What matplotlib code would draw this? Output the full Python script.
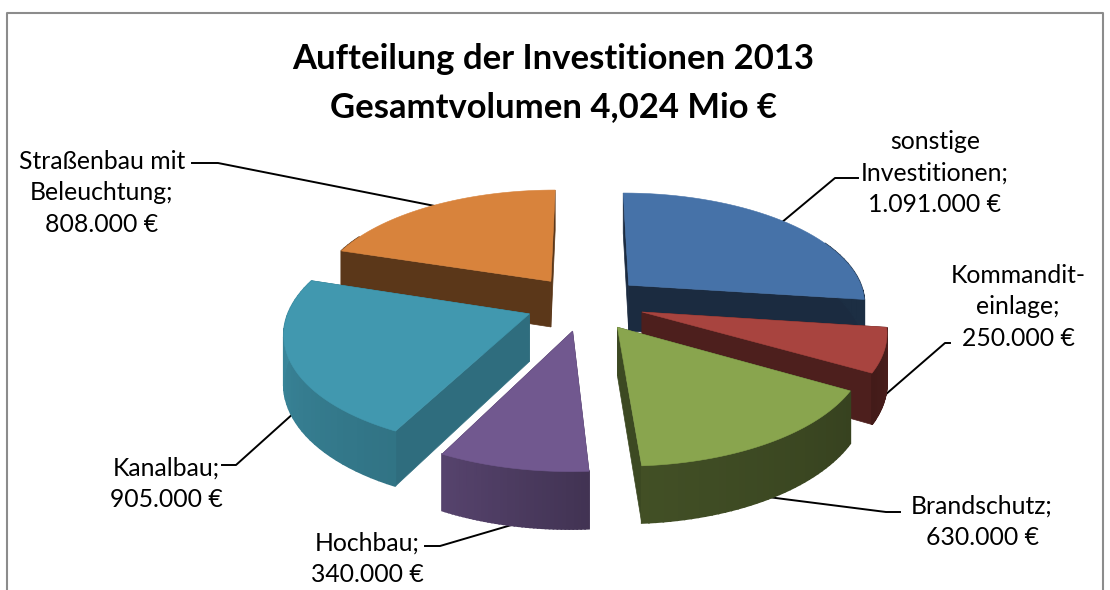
import numpy as np
import matplotlib
matplotlib.use("Agg")
import matplotlib.pyplot as plt

# ============================================================
# DATA
# ============================================================
names = ["sonstige\nInvestitionen;", "Kommandit-\neinlage;", "Brandschutz;",
         "Hochbau;", "Kanalbau;", "Straßenbau mit\nBeleuchtung;"]
values = [1091000, 250000, 630000, 340000, 905000, 808000]
title_lines = ["Aufteilung der Investitionen 2013", "Gesamtvolumen 4,024 Mio €"]

# ============================================================
# STYLE
# ============================================================
colors = ["#4672A8", "#A8443F", "#89A54E", "#71588F", "#4198AF", "#D8833C"]
# wall shade at slice start / end of the rim, and for the flat cut faces
rim_shade = [(0.40, 0.40), (0.45, 0.40), (0.40, 0.48), (0.58, 0.76), (0.76, 0.92), (0.42, 0.42)]
face_shade = [0.38, 0.46, 0.44, 0.62, 0.72, 0.42]
draw_order = [5, 0, 1, 4, 2, 3]

CX, CY = 585, 303
RX, RY = 238, 110.6
PERSP = 0.147
EXPLODE = 0.25
DEPTH = 47

label_pos = [(935, 173), (1018, 307), (982, 522), (367, 559), (166, 484), (102, 193)]
leaders = [
    [(858, 178), (835, 178), (775, 228)],
    [(950, 343), (945, 343), (870, 408)],
    [(900, 512), (886, 512), (760, 496)],
    [(425, 546), (440, 546), (525, 521)],
    [(222, 465), (236, 465), (305, 403)],
    [(192, 163), (218, 163), (445, 208)],
]


def project(px, py, z=0.0):
    d = 1 + PERSP * py
    return CX + RX * px / d, CY - RY * py / d + z * DEPTH / d


def shade(color, f):
    return tuple(c * f for c in matplotlib.colors.to_rgb(color))


fig = plt.figure(figsize=(11.1, 5.9), dpi=100)
ax = fig.add_axes([0, 0, 1, 1])
ax.set_xlim(0, 1110)
ax.set_ylim(590, 0)
ax.axis("off")

# chart frame, cut off at the bottom of the picture
ax.plot([7, 7, 1103, 1103], [590, 13, 13, 590], color="#8c8c8c", lw=1.5)

# ============================================================
# PIE
# ============================================================
angles = np.cumsum([0] + values) / sum(values) * 2 * np.pi

for i in draw_order:
    t0, t1 = angles[i], angles[i + 1]
    mid = (t0 + t1) / 2
    ox, oy = EXPLODE * np.sin(mid), EXPLODE * np.cos(mid)
    t = np.linspace(t0, t1, 40)
    rim_x, rim_y = ox + np.sin(t), oy + np.cos(t)
    layer = draw_order.index(i) * 3 + 5

    # cut faces
    for a in (t0, t1):
        ex, ey = ox + np.sin(a), oy + np.cos(a)
        x0, y0 = project(ox, oy)
        x1, y1 = project(ex, ey)
        x2, y2 = project(ex, ey, 1)
        x3, y3 = project(ox, oy, 1)
        ax.fill([x0, x1, x2, x3], [y0, y1, y2, y3], color=shade(colors[i], face_shade[i]), lw=0.5, zorder=layer)

    # outer wall as small strips for the gradient, back part is hidden anyway
    for j in range(len(t) - 1):
        if np.cos(t[j]) > 0.45:
            continue
        f = rim_shade[i][0] + (rim_shade[i][1] - rim_shade[i][0]) * j / (len(t) - 2)
        xa, ya = project(rim_x[j], rim_y[j])
        xb, yb = project(rim_x[j + 1], rim_y[j + 1])
        xc, yc = project(rim_x[j + 1], rim_y[j + 1], 1)
        xd, yd = project(rim_x[j], rim_y[j], 1)
        ax.fill([xa, xb, xc, xd], [ya, yb, yc, yd], color=shade(colors[i], f), lw=1.2, zorder=layer + 1)

    # top
    tx, ty = project(np.r_[ox, rim_x], np.r_[oy, rim_y])
    ax.fill(tx, ty, color=colors[i], lw=0.4, zorder=layer + 2)

# ============================================================
# TEXT
# ============================================================
plt.rcParams["font.family"] = ["Lato", "DejaVu Sans"]

ax.text(553, 83, "\n".join(title_lines), ha="center", va="center", fontsize=24.9,
        fontweight="bold", linespacing=1.62, color="black", zorder=40)

for i in range(len(values)):
    amount = f"{values[i]:,}".replace(",", ".") + " €"
    ax.text(label_pos[i][0], label_pos[i][1], names[i] + "\n" + amount, ha="center", va="center",
            fontsize=17.8, linespacing=1.47, color="black", zorder=40)
    xs = [p[0] for p in leaders[i]]
    ys = [p[1] for p in leaders[i]]
    # leaders end behind the pie
    ax.plot(xs, ys, color="black", lw=1.4, zorder=2)

fig.savefig("out.png", dpi=100)
